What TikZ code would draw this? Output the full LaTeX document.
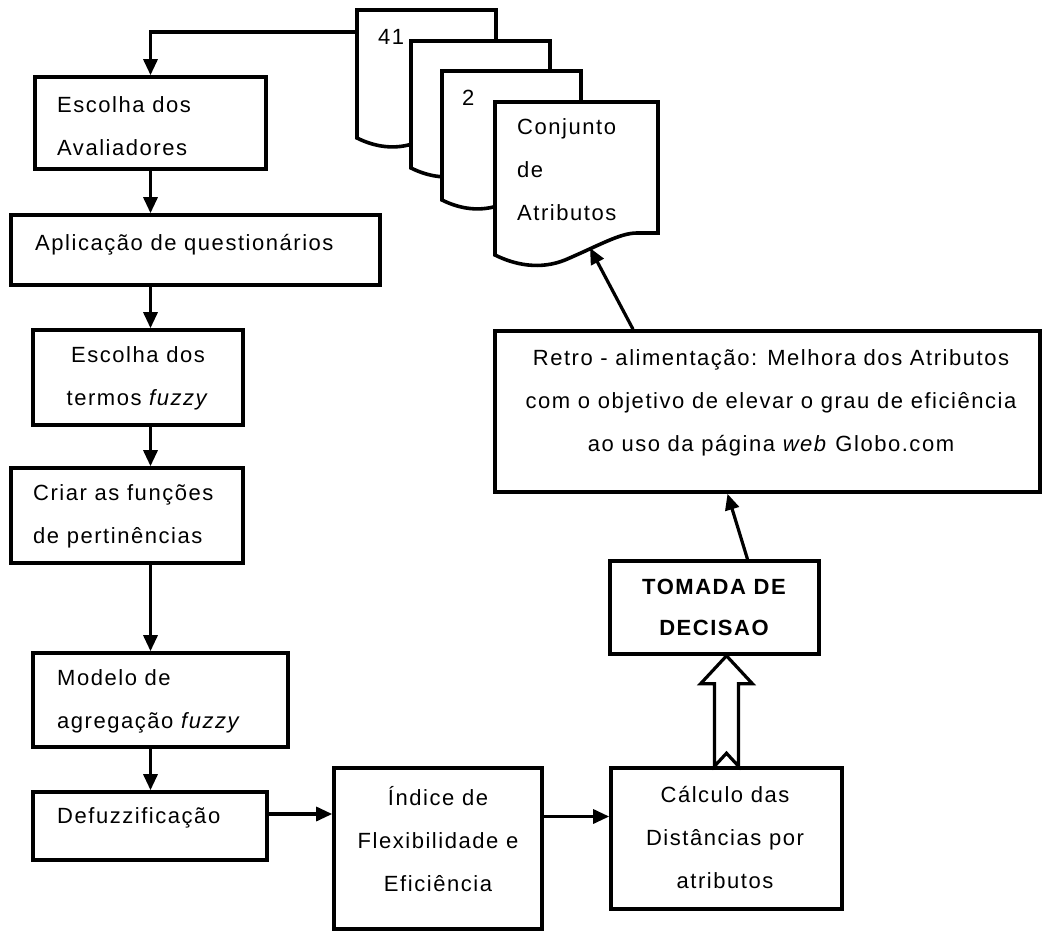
\documentclass[tikz,border=0pt]{standalone}
\usepackage{fontspec}
\setmainfont{Liberation Sans}[LetterSpace=7]
\usetikzlibrary{arrows.meta,calc}
\begin{document}
\begin{tikzpicture}[x=1pt,y=-1pt,
  box/.style={draw, rectangle, inner sep=0pt, line width=3.6pt, fill=white},
  arr/.style={-{Triangle[length=16pt,width=14pt]}, line width=3.2pt},
  docsh/.style={draw, fill=white, line width=3.6pt, line join=miter},
  hollow/.style={draw, fill=white, line width=3.2pt, line join=miter},
  txt/.style={font=\fontsize{22}{43}\selectfont, inner sep=0pt},
  txtb/.style={font=\fontsize{22}{41}\selectfont\bfseries, inner sep=0pt}]
\useasboundingbox (0,0) rectangle (1044,931);

% document stack
\draw[docsh] (357,10) -- (496,10) -- (496,119.2) -- (478,119.2) .. controls (464,119.2) and (447,129.5) .. (417,142.3) .. controls (395,150.8) and (374,146.5) .. (357,138) -- cycle;
\draw[docsh] (411,41) -- (550,41) -- (550,149.2) -- (532,149.2) .. controls (518,149.2) and (501,159.5) .. (471,172.3) .. controls (449,180.8) and (428,176.5) .. (411,168) -- cycle;
\draw[docsh] (442,71) -- (581,71) -- (581,181.2) -- (563,181.2) .. controls (549,181.2) and (532,191.5) .. (502,204.3) .. controls (480,212.8) and (459,208.5) .. (442,200) -- cycle;
\draw[docsh] (495,102) -- (658,102) -- (658,233) -- (637,233) .. controls (620,233) and (600,245) .. (565,260) .. controls (540,270) and (515,265) .. (495,255) -- cycle;
\node[txt, anchor=west] (t41) at (378,37) {41};
\node[txt, anchor=west] (t2) at (462,98) {2};
\node[txt, anchor=west, align=left] (tconj) at (517,170) {Conjunto\\de\\Atributos};
\coordinate (c41) at (357,32);
\coordinate (d4w) at (590,248);

% boxes
\node[box, minimum width=231pt, minimum height=92pt] (b1) at (150.5,123) {};
\node[box, minimum width=369pt, minimum height=70pt] (b2) at (195.5,250) {};
\node[box, minimum width=210pt, minimum height=95pt] (b3) at (138,377.5) {};
\node[box, minimum width=232pt, minimum height=95pt] (b4) at (127,515.5) {};
\node[box, minimum width=255pt, minimum height=94pt] (b5) at (160.5,700) {};
\node[box, minimum width=234pt, minimum height=68pt] (b6) at (150,826) {};
\node[box, minimum width=208pt, minimum height=161pt] (b7) at (438,848.5) {};
\node[box, minimum width=231pt, minimum height=141pt] (b8) at (726.5,838.5) {};
\node[box, minimum width=209pt, minimum height=93pt] (b9) at (714.5,607.5) {};
\node[box, minimum width=545pt, minimum height=161pt] (b10) at (767.5,411.5) {};

% texts
\node[txt, anchor=west, align=left] (t1) at (57,126) {Escolha dos\\Avaliadores};
\node[txt, anchor=west] (t2b) at (35,245) {Aplicação de questionários};
\node[txt, align=center] (t3) at (138,378.5) {Escolha dos\\termos \textit{fuzzy}};
\node[txt, anchor=west, align=left] (t4) at (33,516) {Criar as funções\\de pertinências};
\node[txt, anchor=west, align=left] (t5) at (57,701) {Modelo de\\agregação \textit{fuzzy}};
\node[txt, anchor=west] (t6) at (57,818) {Defuzzificação};
\node[txt, align=center] (t7) at (438,839) {Índice de\\Flexibilidade e\\Eficiência};
\node[txt, align=center] (t8) at (725,837) {Cálculo das\\Distâncias por\\atributos};
\node[txtb, align=center] (t9) at (714,607.5) {TOMADA DE\\DECISAO};
\node[txt, align=center] (t10) at (771,403) {Retro - alimentação: Melhora dos Atributos\\com o objetivo de elevar o grau de eficiência\\ao uso da página \textit{web} Globo.com};

% connectors
\draw[arr] (c41) -| (b1.north);
\draw[arr] (b1.south) -- (b1.south |- b2.north);
\draw[arr] (b1.south |- b2.south) -- (b1.south |- b3.north);
\draw[arr] (b1.south |- b3.south) -- (b1.south |- b4.north);
\draw[arr] (b1.south |- b4.south) -- (b1.south |- b5.north);
\draw[arr] (b1.south |- b5.south) -- (b1.south |- b6.north);
\draw[arr] ([yshift=12pt]b6.east) -- ([yshift=12pt]b6.east -| b7.west);
\draw[arr] ([yshift=32pt]b7.east) -- ([yshift=32pt]b7.east -| b8.west);
\coordinate (T) at (b8.north |- b9.south);
\draw[hollow] (T) -- ($(T)+(26,28)$) -- ($(T)+(12,28)$) -- ($(b8.north)+(12,0)$) -- ($(b8.north)+(0,-13)$) -- ($(b8.north)+(-12,0)$) -- ($(T)+(-12,28)$) -- ($(T)+(-26,28)$) -- cycle;
\draw[arr] ([xshift=33pt]b9.north) -- ([xshift=-40pt]b10.south);
\draw[arr] ([xshift=-134.5pt]b10.north) -- (d4w);
\end{tikzpicture}
\end{document}
